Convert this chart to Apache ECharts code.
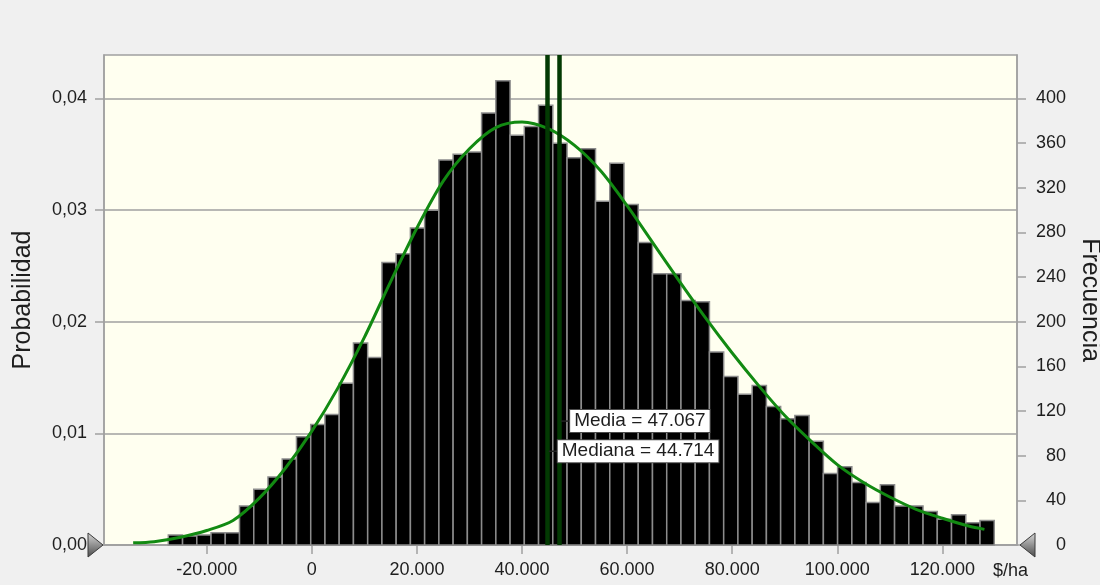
<!DOCTYPE html>
<html>
<head>
<meta charset="utf-8">
<script src="https://cdn.jsdelivr.net/npm/echarts@6/dist/echarts.min.js"></script>
<style>
  html, body { margin: 0; padding: 0; background: #f0f0f0; }
  #chart { width: 1100px; height: 585px; }
</style>
</head>
<body>
<div id="chart"></div>
<script>
// Histogram bins in $/ha: lower edge of the first bin and common bin width
const binStart = -27310;
const binWidth = 2710;
// Count of iterations falling in each bin
const frequencies = [
  9, 8, 9, 11, 11, 35, 50, 61, 77, 97,
  108, 117, 145, 181, 168, 253, 261, 284, 300,
  345, 350, 352, 387, 416, 367, 375, 394, 360, 347,
  355, 308, 342, 305, 271, 243, 243, 219, 218,
  173, 151, 135, 143, 124, 113, 116, 93, 64, 70,
  56, 38, 54, 35, 35, 30, 23, 27, 20, 22
];
const totalCount = 10000;

// Fitted distribution, as probability per bin
const fitX = [-34000, -30000, -25000, -20000, -15000, -10000, -5000, 0, 5000, 10000,
  15000, 20000, 25000, 30000, 35000, 40000, 45000, 50000, 55000, 60000,
  65000, 70000, 75000, 80000, 85000, 90000, 95000, 100000, 105000, 110000,
  115000, 120000, 125000, 128000];
const fitP = [0.0002, 0.0003, 0.0007, 0.0013, 0.0022, 0.0042, 0.0069, 0.0102, 0.0141, 0.0186,
  0.0236, 0.0284, 0.0326, 0.0355, 0.0374, 0.0379, 0.0373, 0.0358, 0.0335, 0.0304,
  0.0270, 0.0236, 0.0203, 0.0172, 0.0143, 0.0116, 0.0093, 0.0072, 0.0056, 0.0043,
  0.0032, 0.0024, 0.0017, 0.0014];

// Summary statistics
const meanValue = 47067;
const medianValue = 44714;

// Axis ticks
const xTicks = [-20000, 0, 20000, 40000, 60000, 80000, 100000, 120000];
const probTicks = [0, 0.01, 0.02, 0.03, 0.04];
const freqTicks = [0, 40, 80, 120, 160, 200, 240, 280, 320, 360, 400];

const xMin = -39550, xMax = 134200;
const probMax = 0.0439;

function fmtThousands(v) {
  const neg = v < 0;
  const s = String(Math.abs(Math.round(v))).replace(/\B(?=(\d{3})+(?!\d))/g, '.');
  return (neg ? '-' : '') + s;
}

const axisGray = '#a0a0a0';
const textColor = '#1e1e1e';
const font = 'Liberation Sans, Arial, sans-serif';

const binData = frequencies.map((f, i) => [binStart + i * binWidth, binStart + (i + 1) * binWidth, f]);
const curveData = fitX.map((x, i) => [x, fitP[i]]);

const chart = echarts.init(document.getElementById('chart'), null, { renderer: 'canvas' });

const statLabel = {
  show: true,
  position: 'right',
  distance: 0,
  backgroundColor: '#ffffff',
  borderColor: '#4a4a4a',
  borderWidth: 1,
  padding: [1, 4, 1, 4],
  fontSize: 19,
  lineHeight: 20,
  fontFamily: font,
  color: textColor
};

chart.setOption({
  backgroundColor: '#f0f0f0',
  animation: false,
  grid: {
    left: 104, top: 55, right: 83, bottom: 40,
    show: true, backgroundColor: '#fffff0',
    borderColor: axisGray, borderWidth: 1.5,
    outerBoundsMode: 'none', containLabel: false
  },
  xAxis: {
    type: 'value', min: xMin, max: xMax,
    name: '$/ha', nameLocation: 'end', nameGap: -24, nameMoveOverlap: false,
    nameTextStyle: { fontSize: 18, fontFamily: font, color: textColor, verticalAlign: 'top', padding: [17, 0, 0, 0] },
    axisLine: { show: true, onZero: false, lineStyle: { color: axisGray, width: 1.5 } },
    axisTick: { show: true, customValues: xTicks, length: 9, lineStyle: { color: axisGray, width: 1.5 } },
    axisLabel: { customValues: xTicks, formatter: fmtThousands, fontSize: 18, fontFamily: font, color: textColor, margin: 16 },
    splitLine: { show: false }
  },
  yAxis: [
    {
      type: 'value', min: 0, max: probMax, interval: 0.01, position: 'left',
      name: 'Probabilidad', nameLocation: 'middle', nameGap: 68, nameMoveOverlap: false,
      nameTextStyle: { fontSize: 25, fontFamily: font, color: textColor },
      axisLine: { show: true, onZero: false, lineStyle: { color: axisGray, width: 1.5 } },
      axisTick: { show: true, customValues: probTicks, length: 9, lineStyle: { color: axisGray, width: 1.5 } },
      axisLabel: { customValues: probTicks, formatter: v => v.toFixed(2).replace('.', ','), fontSize: 18, fontFamily: font, color: textColor, margin: 17 },
      splitLine: { show: true, lineStyle: { color: axisGray, width: 1.5 } }
    },
    {
      type: 'value', min: 0, max: probMax * totalCount, interval: 40, position: 'right',
      name: 'Frecuencia', nameLocation: 'middle', nameRotate: -90, nameGap: 60, nameMoveOverlap: false,
      nameTextStyle: { fontSize: 25, fontFamily: font, color: textColor },
      axisLine: { show: true, onZero: false, lineStyle: { color: axisGray, width: 1.5 } },
      axisTick: { show: true, customValues: freqTicks, length: 9, lineStyle: { color: axisGray, width: 1.5 } },
      axisLabel: { customValues: freqTicks, align: 'right', fontSize: 18, fontFamily: font, color: textColor, margin: 49 },
      splitLine: { show: false }
    }
  ],
  series: [
    {
      name: 'Frecuencia',
      type: 'custom',
      xAxisIndex: 0, yAxisIndex: 1,
      encode: { x: [0, 1], y: 2 },
      data: binData,
      z: 2,
      renderItem: (params, api) => {
        const base = api.coord([api.value(0), 0]);
        const top = api.coord([api.value(1), api.value(2)]);
        return {
          type: 'rect',
          shape: { x: base[0], y: top[1], width: top[0] - base[0], height: base[1] - top[1] },
          style: { fill: '#000000', stroke: '#8c8c8c', lineWidth: 1.5 }
        };
      }
    },
    {
      name: 'Ajuste',
      type: 'line',
      xAxisIndex: 0, yAxisIndex: 0,
      data: curveData,
      smooth: 0.3,
      showSymbol: false,
      symbol: 'none',
      z: 3,
      lineStyle: { color: '#128a12', width: 3 }
    },
    {
      name: 'Estadísticos',
      type: 'line',
      xAxisIndex: 0, yAxisIndex: 0,
      data: [],
      z: 5,
      markLine: {
        silent: true,
        symbol: ['none', 'none'],
        label: { show: false },
        lineStyle: { color: '#033a03', width: 4.5, type: 'solid' },
        data: [{ xAxis: medianValue }, { xAxis: meanValue }]
      },
      markPoint: {
        silent: true,
        symbol: 'rect',
        symbolSize: [9, 1.5],
        symbolOffset: [6.5, 0],
        itemStyle: { color: '#222222' },
        label: statLabel,
        data: [
          { coord: [meanValue, 0.0111], label: { formatter: 'Media = ' + fmtThousands(meanValue) } },
          { coord: [medianValue, 0.0084], label: { formatter: 'Mediana = ' + fmtThousands(medianValue) } }
        ]
      }
    }
  ]
});

// Range slider handles at both ends of the value axis
const leftTip = chart.convertToPixel({ gridIndex: 0 }, [xMin, 0]);
const rightTip = chart.convertToPixel({ gridIndex: 0 }, [xMax, 0]);
const handleFill = new echarts.graphic.LinearGradient(0, 0, 0, 1, [
  { offset: 0, color: '#d8d8d8' },
  { offset: 1, color: '#4a4a4a' }
]);
chart.setOption({
  graphic: [
    {
      type: 'polygon', z: 20,
      shape: { points: [[leftTip[0] - 1, leftTip[1]], [leftTip[0] - 16, leftTip[1] - 12], [leftTip[0] - 16, leftTip[1] + 12]] },
      style: { fill: handleFill, stroke: '#3a3a3a', lineWidth: 1 }
    },
    {
      type: 'polygon', z: 20,
      shape: { points: [[rightTip[0] + 3, rightTip[1]], [rightTip[0] + 18, rightTip[1] - 12], [rightTip[0] + 18, rightTip[1] + 12]] },
      style: { fill: handleFill, stroke: '#3a3a3a', lineWidth: 1 }
    }
  ]
});
</script>
</body>
</html>
